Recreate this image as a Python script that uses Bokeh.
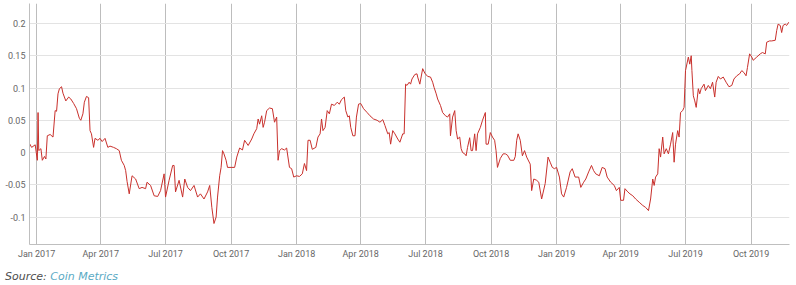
import pandas as pd
from bokeh.plotting import figure
from bokeh.layouts import column
from bokeh.models import (Range1d, FixedTicker, MonthsTicker, DatetimeTickFormatter,
                          CustomJSTickFormatter, Div)
from bokeh.embed import file_html
from bokeh.resources import INLINE

# ---- data ----
dates_2017 = ["2016-12-22","2016-12-25","2016-12-30","2017-01-02","2017-01-03","2017-01-04","2017-01-07","2017-01-09",
"2017-01-12","2017-01-14","2017-01-16","2017-01-20","2017-01-24","2017-01-27","2017-01-29","2017-01-31","2017-02-02",
"2017-02-05","2017-02-07","2017-02-11","2017-02-15","2017-02-18","2017-02-22","2017-02-26","2017-03-02","2017-03-04",
"2017-03-07","2017-03-09","2017-03-12","2017-03-15","2017-03-17","2017-03-19","2017-03-22","2017-03-24","2017-03-28",
"2017-03-31","2017-04-03","2017-04-07","2017-04-11","2017-04-14","2017-04-19","2017-04-23","2017-04-27","2017-04-30",
"2017-05-04","2017-05-06","2017-05-08","2017-05-11","2017-05-15","2017-05-20","2017-05-25","2017-05-29","2017-06-03",
"2017-06-05","2017-06-10","2017-06-15","2017-06-20","2017-06-24","2017-06-29","2017-07-01","2017-07-06","2017-07-11",
"2017-07-13","2017-07-15","2017-07-20","2017-07-25","2017-07-28","2017-08-01","2017-08-05","2017-08-10","2017-08-15",
"2017-08-19","2017-08-24","2017-08-29","2017-09-01","2017-09-04","2017-09-07","2017-09-10","2017-09-12","2017-09-15",
"2017-09-17","2017-09-19","2017-09-21","2017-09-24","2017-09-26","2017-10-01","2017-10-06","2017-10-09","2017-10-13",
"2017-10-17","2017-10-20","2017-10-25","2017-10-30","2017-11-02","2017-11-06","2017-11-08","2017-11-10","2017-11-13",
"2017-11-15","2017-11-17","2017-11-20","2017-11-24","2017-11-28","2017-12-01","2017-12-04","2017-12-06","2017-12-08",
"2017-12-11","2017-12-15","2017-12-18","2017-12-22","2017-12-25","2017-12-28"]
values_2017 = [0.014,0.008,0.012,-0.012,0.062,0.003,0.006,-0.012,
-0.006,-0.010,0.026,0.028,0.024,0.065,0.064,0.091,0.099,
0.102,0.092,0.080,0.086,0.083,0.076,0.068,0.053,0.050,
0.060,0.078,0.087,0.085,0.034,0.029,0.008,0.022,0.019,
0.022,0.017,0.022,0.008,0.010,0.008,0.006,0.003,-0.012,
-0.020,-0.028,-0.045,-0.064,-0.036,-0.041,-0.056,-0.054,-0.056,
-0.046,-0.051,-0.067,-0.068,-0.059,-0.033,-0.069,-0.043,-0.020,
-0.020,-0.061,-0.043,-0.069,-0.041,-0.054,-0.059,-0.051,-0.069,
-0.064,-0.072,-0.061,-0.051,-0.085,-0.110,-0.100,-0.069,-0.036,
-0.023,0.003,-0.002,-0.012,-0.023,-0.023,-0.023,-0.007,0.007,
0.004,0.019,0.011,0.021,0.029,0.037,0.052,0.044,0.057,
0.039,0.047,0.065,0.069,0.068,0.047,0.055,-0.012,0.003,
0.006,0.004,0.007,-0.023,-0.025,-0.038]

dates_2018 = ["2018-01-01","2018-01-05","2018-01-09","2018-01-12","2018-01-15","2018-01-17","2018-01-20","2018-01-23",
"2018-01-28","2018-01-31","2018-02-03","2018-02-05","2018-02-07","2018-02-10","2018-02-13","2018-02-16","2018-02-19",
"2018-02-23","2018-02-27","2018-03-02","2018-03-05","2018-03-09","2018-03-11","2018-03-14","2018-03-16","2018-03-18",
"2018-03-21","2018-03-24","2018-03-26","2018-03-29","2018-04-01","2018-04-05","2018-04-10","2018-04-14","2018-04-19",
"2018-04-24","2018-04-28","2018-05-02","2018-05-05","2018-05-09","2018-05-11","2018-05-13","2018-05-16","2018-05-19",
"2018-05-23","2018-05-26","2018-05-30","2018-06-01","2018-06-03","2018-06-05","2018-06-08","2018-06-10","2018-06-12",
"2018-06-16","2018-06-19","2018-06-20","2018-06-23","2018-06-27","2018-06-30","2018-07-04","2018-07-08","2018-07-11",
"2018-07-13","2018-07-16","2018-07-18","2018-07-22","2018-07-25","2018-07-29","2018-08-01","2018-08-04","2018-08-05",
"2018-08-08","2018-08-11","2018-08-13","2018-08-15","2018-08-18","2018-08-20","2018-08-22","2018-08-25","2018-08-27",
"2018-08-29","2018-09-01","2018-09-03","2018-09-05","2018-09-08","2018-09-10","2018-09-12","2018-09-16","2018-09-19",
"2018-09-23","2018-09-24","2018-09-27","2018-09-30","2018-10-03","2018-10-06","2018-10-08","2018-10-10","2018-10-14",
"2018-10-18","2018-10-21","2018-10-24","2018-10-28","2018-11-02","2018-11-04","2018-11-06","2018-11-08","2018-11-11",
"2018-11-14","2018-11-17","2018-11-20","2018-11-25","2018-11-27","2018-11-30","2018-12-04","2018-12-07","2018-12-11",
"2018-12-16","2018-12-20","2018-12-23","2018-12-26","2018-12-29"]
values_2018 = [-0.036,-0.037,-0.033,-0.017,-0.028,0.019,0.019,0.005,
0.008,0.024,0.029,0.052,0.034,0.039,0.065,0.060,0.075,
0.073,0.078,0.075,0.082,0.086,0.065,0.055,0.057,0.039,
0.026,0.026,0.055,0.075,0.076,0.068,0.062,0.057,0.052,
0.050,0.047,0.051,0.042,0.029,0.031,0.013,0.034,0.029,
0.021,0.016,0.029,0.029,0.106,0.104,0.109,0.106,0.114,
0.121,0.122,0.117,0.106,0.130,0.123,0.118,0.117,0.109,
0.101,0.091,0.083,0.073,0.062,0.057,0.055,0.060,0.026,
0.055,0.065,0.034,0.021,0.024,0.006,0.000,-0.002,-0.005,
0.008,0.023,0.003,0.003,0.029,0.003,0.029,0.039,0.050,
0.062,0.013,0.013,0.031,0.024,0.019,0.003,-0.023,-0.009,
-0.002,-0.002,-0.004,-0.012,-0.012,-0.006,0.019,0.029,0.019,
-0.005,0.003,-0.007,-0.018,-0.059,-0.041,-0.043,-0.046,-0.072,
-0.048,-0.007,-0.015,-0.023,-0.025]

dates_2019 = ["2019-01-01","2019-01-05","2019-01-08","2019-01-11","2019-01-15","2019-01-20","2019-01-23","2019-01-27",
"2019-02-01","2019-02-04","2019-02-08","2019-02-11","2019-02-15","2019-02-19","2019-02-22","2019-02-25","2019-03-02",
"2019-03-06","2019-03-10","2019-03-13","2019-03-18","2019-03-23","2019-03-26","2019-03-30","2019-04-01","2019-04-05",
"2019-04-07","2019-04-11","2019-04-14","2019-04-18","2019-04-22","2019-04-27","2019-05-02","2019-05-06","2019-05-10",
"2019-05-13","2019-05-16","2019-05-18","2019-05-20","2019-05-23","2019-05-25","2019-05-27","2019-05-30","2019-06-01",
"2019-06-04","2019-06-07","2019-06-10","2019-06-13","2019-06-15","2019-06-17","2019-06-20","2019-06-22","2019-06-24",
"2019-06-27","2019-06-29","2019-07-01","2019-07-05","2019-07-07","2019-07-09","2019-07-10","2019-07-12","2019-07-14",
"2019-07-16","2019-07-19","2019-07-21","2019-07-23","2019-07-27","2019-07-29","2019-08-02","2019-08-05","2019-08-08",
"2019-08-11","2019-08-13","2019-08-16","2019-08-19","2019-08-23","2019-08-27","2019-08-31","2019-09-04","2019-09-07",
"2019-09-11","2019-09-15","2019-09-18","2019-09-21","2019-09-24","2019-09-26","2019-09-29","2019-10-02","2019-10-04",
"2019-10-09","2019-10-14","2019-10-17","2019-10-21","2019-10-23","2019-10-27","2019-10-30","2019-11-04","2019-11-06",
"2019-11-08","2019-11-11","2019-11-13","2019-11-15","2019-11-18","2019-11-20","2019-11-23"]
values_2019 = [-0.023,-0.038,-0.064,-0.069,-0.054,-0.030,-0.025,-0.038,
-0.038,-0.054,-0.046,-0.041,-0.030,-0.020,-0.028,-0.033,-0.036,
-0.023,-0.025,-0.038,-0.046,-0.051,-0.059,-0.054,-0.074,-0.074,
-0.056,-0.061,-0.064,-0.067,-0.072,-0.077,-0.082,-0.085,-0.090,
-0.072,-0.041,-0.051,-0.038,-0.033,0.006,-0.007,0.024,-0.002,
0.006,-0.002,0.013,0.031,-0.015,0.013,0.034,0.024,0.062,
0.065,0.070,0.127,0.148,0.137,0.150,0.127,0.088,0.080,
0.070,0.099,0.091,0.099,0.106,0.096,0.104,0.099,0.109,
0.086,0.109,0.118,0.114,0.117,0.109,0.102,0.104,0.114,
0.119,0.122,0.127,0.124,0.119,0.132,0.153,0.148,0.143,
0.148,0.153,0.155,0.153,0.171,0.173,0.173,0.174,0.189,
0.199,0.197,0.186,0.197,0.199,0.197,0.202]

y_ticks = [-0.1, -0.05, 0, 0.05, 0.1, 0.15, 0.2]
source_prefix = "Source:"
source_name = "Coin Metrics"

dates = pd.to_datetime(dates_2017 + dates_2018 + dates_2019)
values = values_2017 + values_2018 + values_2019

p = figure(width=796, height=262, x_axis_type="datetime",
           output_backend="svg", toolbar_location=None,
           x_range=Range1d(pd.Timestamp("2016-12-22"), pd.Timestamp("2019-11-24")),
           y_range=Range1d(-0.1425, 0.231),
           min_border_left=29, min_border_right=7, min_border_top=3, min_border_bottom=18)
p.outline_line_color = None
p.background_fill_color = "white"
p.border_fill_color = "white"

p.line(dates, values, line_color="#c8302c", line_width=1.0)

# axes
p.xaxis.ticker = MonthsTicker(months=[0, 3, 6, 9])
p.xaxis.formatter = DatetimeTickFormatter(days="%b %Y", months="%b %Y", years="%b %Y")
p.yaxis.ticker = FixedTicker(ticks=y_ticks)
p.yaxis.formatter = CustomJSTickFormatter(code="return String(Math.round(tick*1000)/1000);")

for ax in (p.xaxis[0], p.yaxis[0]):
    ax.axis_line_color = "#bfbfbf"
    ax.axis_line_width = 1
    ax.major_tick_line_color = None
    ax.minor_tick_line_color = None
    ax.major_tick_in = 0
    ax.major_tick_out = 0
    ax.minor_tick_out = 0
    ax.major_label_text_font = "Roboto"
    ax.major_label_text_font_size = "9px"
    ax.major_label_text_color = "#666666"
p.yaxis.major_label_standoff = 4
p.xaxis.major_label_standoff = 4

p.xgrid.grid_line_color = "#bdbdbd"
p.xgrid.grid_line_width = 1
p.ygrid.grid_line_color = "#e3e3e3"
p.ygrid.grid_line_width = 1

# source note
note = Div(
    text=(f'<span style="color:#4d4d4d">{source_prefix}</span> '
          f'<span style="color:#5aaac4">{source_name}</span>'),
    width=796, height=23,
    styles={"font-family": "'DejaVu Sans', sans-serif", "font-style": "italic",
            "font-size": "11px", "line-height": "13px",
            "padding-top": "8px", "padding-left": "5px", "margin": "0"},
)

layout = column(p, note, spacing=0)
open("out.html", "w").write(file_html(layout, INLINE))
